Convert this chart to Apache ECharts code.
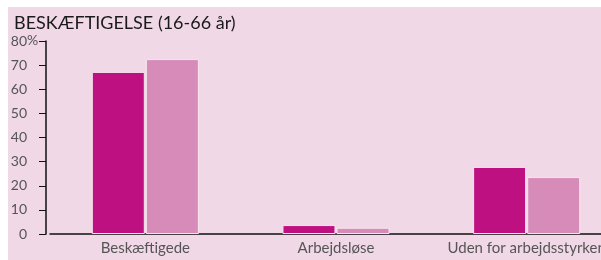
<!DOCTYPE html>
<html>
<head>
<meta charset="utf-8">
<script src="https://cdn.jsdelivr.net/npm/echarts@6/dist/echarts.min.js"></script>
<style>
  html, body { margin: 0; padding: 0; background: #fff; }
  #chart { width: 601px; height: 260px; }
</style>
</head>
<body>
<div id="chart"></div>
<script>
const categories = ["Beskæftigede", "Arbejdsløse", "Uden for arbejdsstyrken"];
const seriesA = [67.2, 3.7, 27.8];
const seriesB = [72.5, 2.6, 23.6];
const yTicks = [0, 10, 20, 30, 40, 50, 60, 70, 80];

const darkColor = "#be1080";
const lightColor = "#d78bb9";
const bgColor = "#f1d8e6";
const fontFamily = "Lato, 'Open Sans', sans-serif";

const chart = echarts.init(document.getElementById("chart"));

chart.setOption({
  backgroundColor: "#ffffff",
  animation: false,
  graphic: [
    {
      type: "rect",
      z: -10,
      shape: { x: 8, y: 7, width: 593, height: 253 },
      style: { fill: bgColor }
    },
    {
      type: "text",
      left: 14,
      top: 14,
      style: {
        text: "BESKÆFTIGELSE (16-66 år)",
        font: "18px " + fontFamily,
        fill: "#1a1a1a"
      }
    },
    {
      type: "text",
      left: 27,
      top: 33,
      style: { text: "%", font: "14px " + fontFamily, fill: "#555" }
    }
  ],
  grid: { left: 50, right: -21, top: 41, bottom: 26, outerBoundsMode: "none" },
  xAxis: {
    type: "category",
    data: categories,
    axisLine: { lineStyle: { color: "#111", width: 1.5 } },
    axisTick: { show: false },
    axisLabel: { color: "#555", fontSize: 15, fontFamily: fontFamily, margin: 7, interval: 0 }
  },
  yAxis: {
    type: "value",
    min: yTicks[0],
    max: yTicks[yTicks.length - 1],
    interval: 10,
    offset: 4,
    splitLine: { show: false },
    axisLine: { show: true, lineStyle: { color: "#111", width: 1.5 } },
    axisTick: { show: true, length: 7, lineStyle: { color: "#111" } },
    axisLabel: { color: "#555", fontSize: 14, fontFamily: fontFamily, margin: 19 }
  },
  series: [
    {
      type: "bar",
      data: seriesA,
      barWidth: 53,
      barGap: "2%",
      itemStyle: { color: darkColor, borderColor: "#f7e6ef", borderWidth: 1 }
    },
    {
      type: "bar",
      data: seriesB,
      barWidth: 53,
      itemStyle: { color: lightColor, borderColor: "#f7e6ef", borderWidth: 1 }
    }
  ]
});
</script>
</body>
</html>
